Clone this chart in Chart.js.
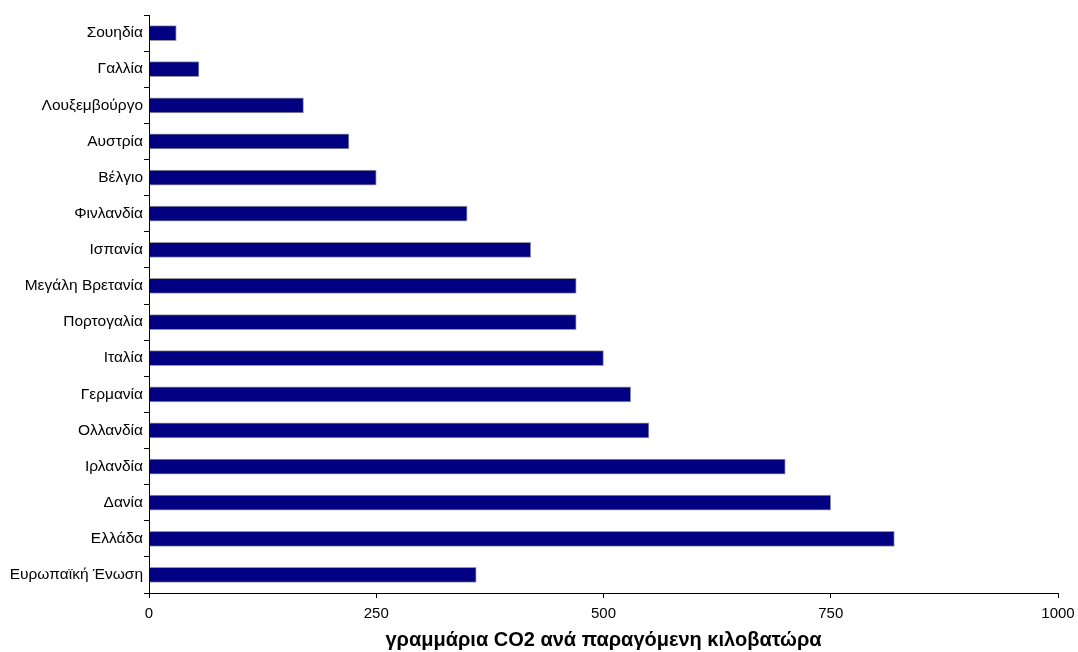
<!DOCTYPE html>
<html>
<head>
<meta charset="utf-8">
<script src="https://cdn.jsdelivr.net/npm/chart.js@4.4.1/dist/chart.umd.min.js"></script>
<style>
  html, body { margin: 0; padding: 0; background: #fff; }
  #wrap { width: 1078px; height: 652px; position: relative; }
</style>
</head>
<body>
<div id="wrap"><canvas id="c" width="1078" height="652"></canvas></div>
<script>
const categories = [
  "Σουηδία", "Γαλλία", "Λουξεμβούργο", "Αυστρία", "Βέλγιο", "Φινλανδία",
  "Ισπανία", "Μεγάλη Βρετανία", "Πορτογαλία", "Ιταλία", "Γερμανία",
  "Ολλανδία", "Ιρλανδία", "Δανία", "Ελλάδα", "Ευρωπαϊκή Ένωση"
];
const co2Values = [30, 55, 170, 220, 250, 350, 420, 470, 470, 500, 530, 550, 700, 750, 820, 360];
const xTicks = [0, 250, 500, 750, 1000];
const xTitle = "γραμμάρια CO2 ανά παραγόμενη κιλοβατώρα";

const FONT = "'Liberation Sans', Arial, sans-serif";

new Chart(document.getElementById('c'), {
  type: 'bar',
  data: {
    labels: categories,
    datasets: [{
      data: co2Values,
      backgroundColor: '#000080',
      borderColor: '#9a9a9a',
      borderWidth: 1,
      barThickness: 15
    }]
  },
  options: {
    indexAxis: 'y',
    responsive: false,
    animation: false,
    devicePixelRatio: 1,
    layout: { padding: { left: 0, right: 20, top: 15, bottom: 0 } },
    plugins: { legend: { display: false }, tooltip: { enabled: false } },
    scales: {
      x: {
        type: 'linear',
        min: 0, max: 1000,
        afterBuildTicks: (s) => { s.ticks = xTicks.map(v => ({ value: v })); },
        afterFit: (s) => { s.height = 59; s.paddingRight = 0; s.paddingLeft = 0; },
        grid: { display: true, drawOnChartArea: false, drawTicks: true, tickLength: 5, color: '#000', lineWidth: 1 },
        border: { display: true, color: '#000', width: 1 },
        ticks: { color: '#000', font: { family: FONT, size: 15 }, padding: 7, maxRotation: 0,
                 callback: (v) => String(v) },
        title: { display: true, text: xTitle, color: '#000', font: { family: FONT, size: 20, weight: 'bold' }, padding: { top: 4, bottom: 0 } }
      },
      y: {
        type: 'category',
        afterFit: (s) => { s.width = 149; },
        grid: { display: true, offset: true, drawOnChartArea: false, drawTicks: true, tickLength: 5, color: '#000', lineWidth: 1 },
        border: { display: true, color: '#000', width: 1 },
        ticks: { color: '#000', font: { family: FONT, size: 15.5 }, padding: 1, autoSkip: false }
      }
    }
  }
});
</script>
</body>
</html>
